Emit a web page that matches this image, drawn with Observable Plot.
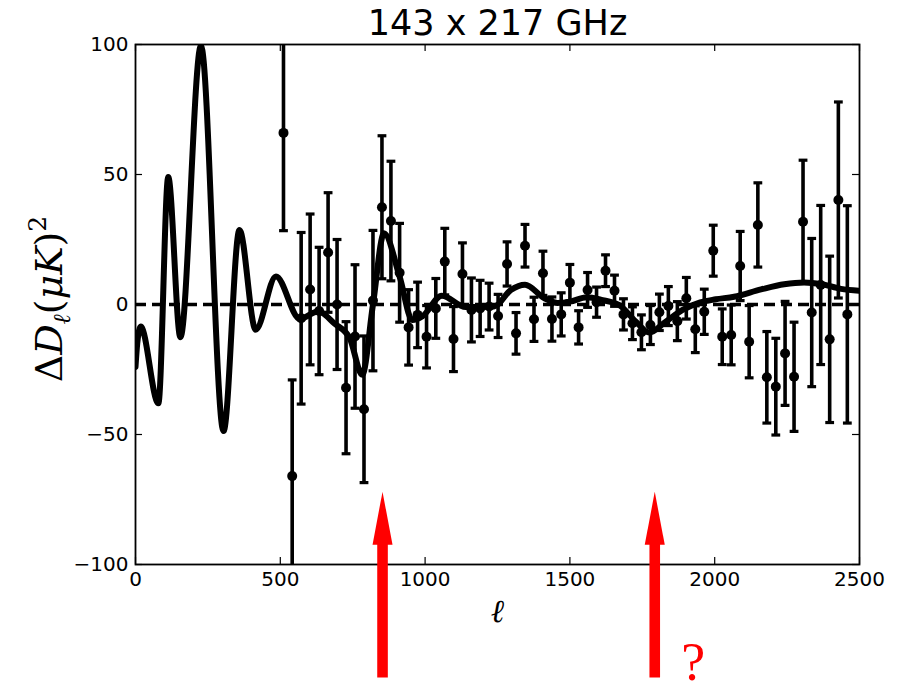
<!DOCTYPE html>
<html>
<head>
<meta charset="utf-8">
<script src="https://cdn.jsdelivr.net/npm/d3@7"></script>
<script src="https://cdn.jsdelivr.net/npm/@observablehq/plot@0.6"></script>
<style>
  html, body { margin: 0; padding: 0; background: white; }
  #chart { width: 898px; height: 692px; }
</style>
</head>
<body>
<div id="chart"></div>
<script>
// ---- data ----
const binEll = [511, 541, 572, 603, 634, 665, 696, 727, 758, 789, 820, 851, 882, 912, 943, 974,
  1005, 1037, 1068, 1098, 1129, 1160, 1190, 1221, 1252, 1283, 1314, 1345, 1376, 1407, 1438, 1470,
  1500, 1530, 1561, 1592, 1623, 1654, 1685, 1716, 1747, 1778, 1809, 1840, 1871, 1902, 1933, 1964,
  1995, 2026, 2057, 2088, 2119, 2149, 2180, 2211, 2243, 2274, 2305, 2335, 2366, 2397, 2427, 2458];
const binDl = [66, -66, -5.3, 5.8, -2.5, 20, 0, -32, -12.3, -40.3, 1.5, 37.4, 32.1, 12.2, -8.8, -4.0,
  -12.4, -1.5, 16.5, -13.3, 11.7, -2.1, -1.5, -0.8, -4.4, 15.6, -11.1, 22.6, -5.7, 12, -5.6, -3.8,
  8.4, -8.8, 5.6, 0.9, 13, 5.3, -3.8, -7.2, -10.7, -7.9, -3, -0.6, -6.4, 2.4, -9.5, -2.8,
  20.7, -12.4, -11.7, 14.8, -14.3, 30.6, -28, -31.6, -18.8, -27.8, 31.8, -3.1, 7.5, -13.4, 40.2, -3.8];
const binErr = [37.6, 37, 33, 29, 24.5, 23, 25, 25.4, 27.6, 28.2, 27, 27.5, 23, 19, 14.5, 12.6,
  12, 11.5, 12.8, 12.5, 12, 12.3, 10.8, 9, 8.3, 8.5, 8, 8.2, 8.5, 8.5, 8.5, 8.3,
  7, 6.4, 6.7, 5.8, 6.1, 6, 6, 6.3, 6.7, 7.5, 7, 7.5, 7.5, 8, 9, 8.7,
  9.8, 10.7, 11.5, 13.3, 13.9, 16.2, 17.6, 18.6, 20, 21, 23.7, 28.5, 30.6, 32, 37.7, 41.8];

const modelEll = [0, 6, 18, 79, 113, 155, 226, 304, 359, 415, 485, 567, 631, 688, 740, 783, 820, 858,
  912, 956, 991, 1058, 1140, 1238, 1296, 1345, 1411, 1457, 1500, 1558, 1613, 1670, 1728, 1774, 1831,
  1889, 1950, 2004, 2067, 2160, 2240, 2309, 2367, 2436, 2500];
const modelDl = [-24, -15, -8.5, -38, 49, -12.6, 99.5, -48.7, 28.7, -9.7, 10.8, -5.5, -2.7, -7.4, -13, -27, 0, 27.4,
  10.7, -6, -4.5, 3.4, -1, -0.8, 5.6, 7.6, 2.5, 0.6, 1.1, 2.8, 1.7, -0.2, -6.6, -10.8, -6.6,
  -2.1, 0.8, 2, 3, 5.8, 7.8, 8.5, 7.9, 6, 5.3];

const xTicks = [0, 500, 1000, 1500, 2000, 2500];
const xTickLabels = ["0", "500", "1000", "1500", "2000", "2500"];
const yTicks = [-100, -50, 0, 50, 100];
const yTickLabels = ["\u2212100", "\u221250", "0", "50", "100"];
const arrowEll = [853, 1793];
const titleText = "143 x 217 GHz";
const xLabelText = "\u2113";
const markText = "?";

// ---- layout constants ----
const W = 898, H = 692;
const mL = 135, mR = 39, mT = 44, mB = 128;
const plotW = W - mL - mR, plotH = H - mT - mB;
const tickLen = 7;
const arrowBase = -143.5, arrowNeck = -92;

const bins = binEll.map((l, i) => ({l, v: binDl[i], e: binErr[i]}));
const model = modelEll.map((l, i) => ({l, v: modelDl[i]}));

const capSymbol = {
  draw(ctx, size) { const r = Math.sqrt(size / Math.PI); ctx.moveTo(-r, 0); ctx.lineTo(r, 0); }
};
const headSymbol = {
  draw(ctx, size) {
    const r = Math.sqrt(size / Math.PI);
    ctx.moveTo(0, -r * 5.3); ctx.lineTo(r, 0); ctx.lineTo(-r, 0); ctx.closePath();
  }
};

const chart = Plot.plot({
  width: W, height: H,
  marginLeft: mL, marginRight: mR, marginTop: mT, marginBottom: mB,
  style: {fontFamily: "DejaVu Sans", fontSize: "20px", color: "black", background: "white", overflow: "visible"},
  x: {domain: [0, 2500], ticks: xTicks, tickSize: 0, tickPadding: 7, label: null,
      tickFormat: d => xTickLabels[xTicks.indexOf(d)]},
  y: {domain: [-100, 100], ticks: yTicks, tickSize: 0, tickPadding: 7, label: null,
      tickFormat: d => yTickLabels[yTicks.indexOf(d)]},
  marks: [
    Plot.ruleY([0], {stroke: "black", strokeWidth: 3.5, strokeDasharray: "11,6"}),
    Plot.line(model, {x: "l", y: "v", curve: "monotone-x", stroke: "black", strokeWidth: 6,
      strokeLinejoin: "round", clip: true}),
    Plot.ruleX(bins, {x: "l", y1: d => d.v - d.e, y2: d => d.v + d.e, stroke: "black", strokeWidth: 3.6, clip: true}),
    Plot.dot(bins, {x: "l", y: d => d.v + d.e, r: 4.4, symbol: capSymbol, stroke: "black", strokeWidth: 3.2, fill: "none", clip: true}),
    Plot.dot(bins, {x: "l", y: d => d.v - d.e, r: 4.4, symbol: capSymbol, stroke: "black", strokeWidth: 3.2, fill: "none", clip: true}),
    Plot.dot(bins, {x: "l", y: "v", r: 5, fill: "black", stroke: "none", clip: true}),
    Plot.frame({stroke: "black", strokeWidth: 1.8}),
    Plot.tickX(xTicks, {x: d => d, insetTop: plotH - tickLen, stroke: "black", strokeWidth: 1.2}),
    Plot.tickX(xTicks, {x: d => d, insetBottom: plotH - tickLen, stroke: "black", strokeWidth: 1.2}),
    Plot.tickY(yTicks, {y: d => d, insetRight: plotW - tickLen, stroke: "black", strokeWidth: 1.2}),
    Plot.tickY(yTicks, {y: d => d, insetLeft: plotW - tickLen, stroke: "black", strokeWidth: 1.2}),
    // red arrows
    Plot.link(arrowEll, {x1: d => d, x2: d => d, y1: () => arrowBase, y2: () => arrowNeck,
      stroke: "#ff0000", strokeWidth: 10.6, strokeLinecap: "butt"}),
    Plot.dot(arrowEll, {x: d => d, y: () => arrowNeck - 0.4, r: 10, symbol: headSymbol, fill: "#ff0000", stroke: "none"}),
    Plot.text([markText], {x: () => arrowEll[1], y: () => -137.6, dx: 38.5, text: d => d,
      lineAnchor: "middle", fontFamily: "Liberation Serif", fontSize: 54, fill: "#ff0000"}),
    // title and x label
    Plot.text([titleText], {frameAnchor: "top", lineAnchor: "middle", dy: -21, text: d => d,
      fontSize: 35, fontFamily: "DejaVu Sans", fill: "black"}),
    Plot.text([xLabelText], {frameAnchor: "bottom", lineAnchor: "middle", dy: 47, text: d => d, fontSize: 32,
      fontFamily: "DejaVu Serif", fontStyle: "italic", fill: "black"})
  ]
});

// y-axis label with mathematical formatting
const svg = d3.select(chart.tagName.toLowerCase() === "svg" ? chart : chart.querySelector("svg"));
const yl = svg.append("text")
  .attr("transform", "translate(62,299) rotate(-90)")
  .attr("text-anchor", "middle")
  .attr("font-family", "DejaVu Serif")
  .attr("font-size", 38)
  .attr("fill", "black");
yl.append("tspan").text("\u0394");
yl.append("tspan").attr("font-style", "italic").text("D");
yl.append("tspan").attr("font-style", "italic").attr("font-size", 24).attr("dy", 8).text("\u2113");
yl.append("tspan").attr("dy", -8).text("(");
yl.append("tspan").attr("font-style", "italic").text("\u03bcK");
yl.append("tspan").text(")");
yl.append("tspan").attr("font-size", 25).attr("dy", -16).text("2");

document.getElementById("chart").appendChild(chart);
</script>
</body>
</html>
